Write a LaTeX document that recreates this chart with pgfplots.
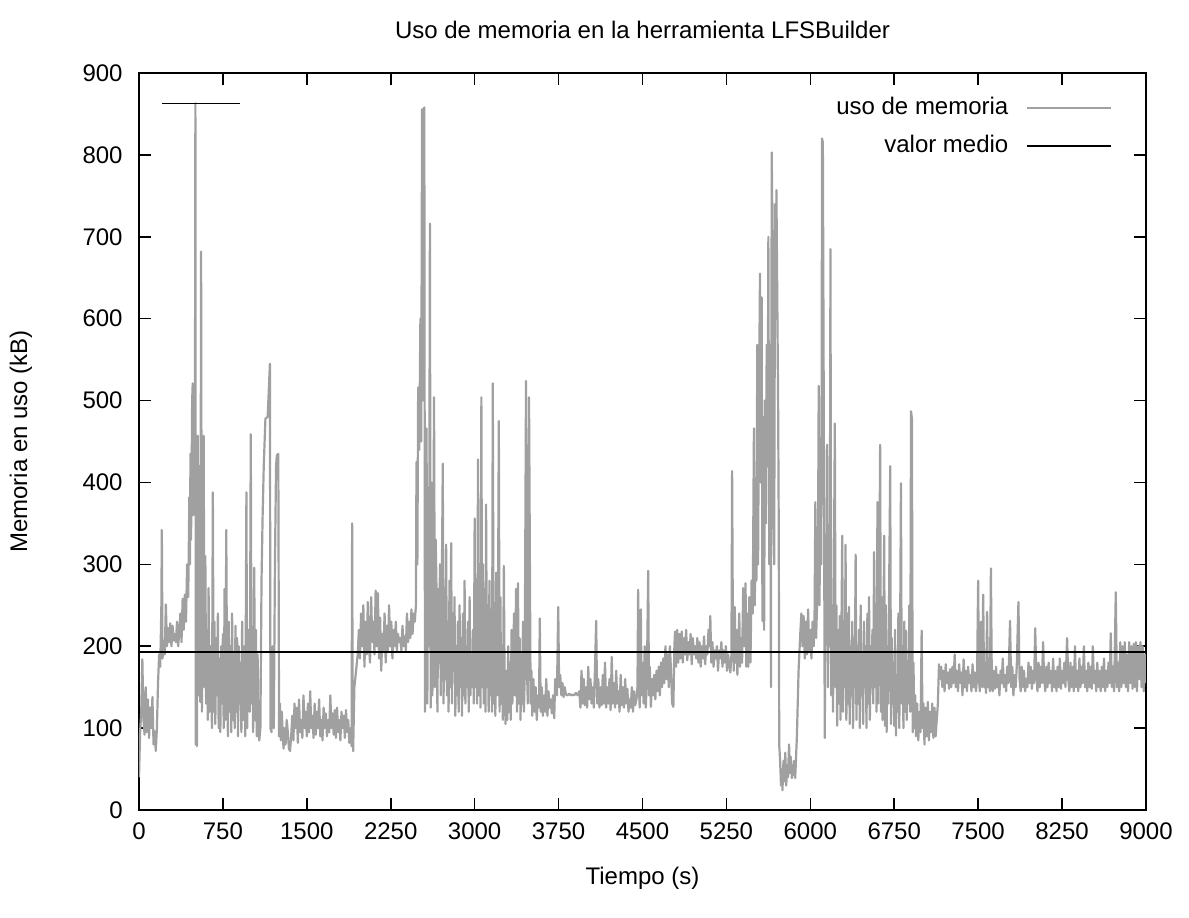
\documentclass[border=0pt]{standalone}
\usepackage{fontspec}
\setmainfont{Liberation Sans}
\usepackage{pgfplots}
\pgfplotsset{compat=1.18}

\definecolor{usogris}{HTML}{A0A0A0}

\begin{document}
\fontsize{12pt}{14pt}\selectfont
\begin{tikzpicture}
  % page frame: the axis box runs from (0,0) to (503.5pt,368.5pt)
  \useasboundingbox (-69.5pt,-53.5pt) rectangle (525pt,405pt);
  \begin{axis}[
      anchor=south west,
      at={(0pt,0pt)},
      scale only axis,
      width=503.5pt,
      height=368.5pt,
      xmin=0, xmax=9000,
      ymin=0, ymax=900,
      xtick={0,750,...,9000},
      ytick={0,100,...,900},
      tick pos=both,
      tick align=inside,
      major tick length=6pt,
      tick style={black, line width=0.8pt},
      axis line style={black, line width=0.9pt},
      /pgf/number format/assume math mode=true,
      /pgf/number format/1000 sep={},
      xticklabel style={yshift=-2pt},
      yticklabel style={xshift=-4pt},
      legend plot pos=right,
      legend cell align=right,
      legend image code/.code={\draw[#1] (0pt,0pt) -- (42pt,0pt);},
      legend style={at={(axis description cs:1,1)}, anchor=north east,
        xshift=-16.5pt, yshift=-11pt, draw=none, fill=none,
        inner sep=0pt, row sep=6.5pt, column sep=8pt,
        nodes={inner sep=1pt}},
    ]
    \addplot[usogris, line width=1.1pt, line join=round] coordinates {
(0,40) (10,95) (20,120) (30,184) (40,110) (50,92) (60,150) (70,95) (80,135) (90,88)
(100,125) (110,100) (120,138) (130,80) (140,96) (150,72) (160,100) (170,155) (180,190) (190,175)
(200,250) (204,342) (210,185) (220,200) (230,190) (240,251) (250,200) (260,222) (270,205) (280,228)
(290,200) (300,225) (310,207) (320,215) (330,205) (340,230) (350,200) (360,218) (370,240) (380,205)
(390,258) (400,220) (410,263) (420,230) (430,300) (440,260) (450,382) (455,300) (460,435) (465,330)
(470,400) (475,500) (480,521) (485,360) (490,420) (495,390) (500,460) (504,863) (508,80) (512,250)
(518,78) (525,457) (532,140) (540,420) (548,132) (555,682) (562,120) (570,300) (578,457) (585,150)
(593,310) (600,130) (608,220) (615,110) (622,271) (630,120) (638,200) (645,160) (652,100) (660,388)
(667,120) (675,230) (682,105) (690,210) (697,140) (705,240) (712,100) (720,185) (727,95) (735,200)
(742,130) (750,215) (757,100) (765,270) (772,110) (780,342) (787,150) (795,90) (802,230) (810,120)
(817,200) (825,95) (832,240) (840,110) (847,190) (855,100) (862,225) (870,120) (877,210) (885,90)
(892,200) (900,130) (907,180) (915,95) (922,230) (930,110) (940,200) (950,90) (960,388) (967,100)
(975,220) (982,150) (990,120) (999,459) (1006,130) (1013,210) (1020,95) (1030,296) (1037,110) (1045,220)
(1052,90) (1060,190) (1068,100) (1075,85) (1085,100) (1095,280) (1105,360) (1115,420) (1130,478) (1150,480)
(1170,545) (1175,100) (1185,95) (1195,200) (1205,100) (1215,300) (1225,420) (1232,433) (1245,435) (1252,90)
(1260,130) (1268,85) (1276,120) (1284,95) (1292,75) (1300,100) (1310,80) (1320,110) (1330,95) (1340,75)
(1350,72) (1360,90) (1370,115) (1380,85) (1390,130) (1400,100) (1410,125) (1420,82) (1430,135) (1440,95)
(1450,110) (1460,88) (1470,140) (1480,100) (1490,120) (1500,90) (1510,130) (1520,95) (1530,145) (1540,100)
(1550,115) (1560,88) (1570,130) (1580,92) (1590,120) (1600,100) (1610,135) (1620,90) (1630,110) (1640,85)
(1650,125) (1660,100) (1670,118) (1680,90) (1690,110) (1700,95) (1710,140) (1720,100) (1730,118) (1740,92)
(1750,122) (1760,88) (1770,125) (1780,95) (1790,110) (1800,85) (1810,120) (1820,100) (1830,115) (1840,88)
(1850,122) (1860,95) (1870,110) (1880,82) (1890,100) (1900,78) (1905,350) (1910,95) (1914,72) (1925,150)
(1940,170) (1955,190) (1965,220) (1975,185) (1985,240) (1995,200) (2005,250) (2015,175) (2025,230) (2035,190)
(2045,254) (2055,200) (2065,180) (2075,260) (2085,205) (2095,230) (2105,190) (2115,268) (2125,200) (2135,265)
(2145,185) (2155,235) (2165,170) (2175,215) (2185,195) (2195,240) (2205,180) (2215,225) (2225,195) (2235,250)
(2245,200) (2255,230) (2265,185) (2275,220) (2285,200) (2295,230) (2305,195) (2315,215) (2325,205) (2335,210)
(2345,195) (2355,225) (2365,200) (2375,212) (2385,195) (2395,240) (2405,205) (2415,230) (2425,210) (2435,245)
(2445,215) (2455,240) (2465,230) (2475,250) (2480,425) (2488,300) (2495,516) (2505,440) (2515,600) (2522,450)
(2530,856) (2535,500) (2542,850) (2550,858) (2556,120) (2563,300) (2570,466) (2577,130) (2585,350) (2592,200)
(2600,716) (2607,125) (2615,400) (2622,140) (2630,300) (2637,504) (2645,150) (2652,330) (2660,260) (2667,120)
(2675,270) (2682,180) (2690,300) (2697,140) (2705,250) (2715,423) (2722,130) (2730,260) (2737,160) (2745,324)
(2752,140) (2760,230) (2767,120) (2775,280) (2782,150) (2790,326) (2797,130) (2805,240) (2812,170) (2820,260)
(2827,115) (2835,200) (2842,140) (2850,230) (2857,120) (2865,250) (2872,150) (2880,210) (2887,115) (2895,240)
(2902,140) (2910,280) (2917,130) (2925,200) (2932,150) (2940,230) (2947,120) (2955,260) (2962,140) (2970,190)
(2977,150) (2985,220) (2992,130) (3000,356) (3006,150) (3015,250) (3022,130) (3030,428) (3037,140) (3045,300)
(3052,125) (3060,504) (3067,150) (3075,300) (3082,130) (3090,250) (3097,120) (3102,373) (3110,150) (3117,250)
(3125,120) (3132,280) (3140,140) (3147,200) (3155,120) (3162,521) (3170,130) (3177,250) (3185,115) (3192,290)
(3200,140) (3207,200) (3216,475) (3223,120) (3230,260) (3237,130) (3245,200) (3252,110) (3261,298) (3268,150)
(3276,105) (3285,170) (3292,110) (3300,200) (3307,120) (3315,180) (3322,110) (3330,220) (3337,130) (3345,190)
(3352,240) (3360,140) (3370,270) (3378,120) (3387,277) (3395,130) (3402,210) (3410,110) (3418,190) (3425,130)
(3432,230) (3440,120) (3447,160) (3459,524) (3466,180) (3475,130) (3486,504) (3492,347) (3500,130) (3508,170)
(3515,115) (3525,160) (3535,120) (3545,150) (3555,110) (3565,140) (3575,125) (3582,234) (3590,120) (3600,150)
(3610,115) (3620,140) (3630,120) (3640,160) (3650,115) (3660,145) (3670,125) (3680,135) (3690,118) (3700,140)
(3711,112) (3720,160) (3735,140) (3747,248) (3755,150) (3765,165) (3775,140) (3785,155) (3795,138) (3805,150)
(3816,141) (3830,140) (3845,142) (3860,140) (3875,141) (3890,140) (3905,143) (3920,140) (3936,145) (3945,125)
(3955,170) (3965,130) (3975,160) (3985,128) (3995,150) (4005,125) (4015,175) (4025,135) (4035,160) (4045,130)
(4055,150) (4065,125) (4075,170) (4086,231) (4095,130) (4105,160) (4115,125) (4125,150) (4135,128) (4145,165)
(4155,130) (4165,180) (4175,125) (4185,150) (4195,130) (4205,160) (4215,122) (4225,187) (4235,130) (4245,155)
(4255,125) (4265,170) (4275,130) (4285,145) (4295,120) (4305,165) (4315,128) (4325,150) (4335,125) (4345,160)
(4355,130) (4365,148) (4375,120) (4385,135) (4395,125) (4405,150) (4415,120) (4425,145) (4435,128) (4446,135)
(4455,150) (4461,269) (4468,150) (4475,125) (4485,245) (4492,140) (4500,180) (4510,130) (4520,200) (4530,125)
(4540,170) (4551,292) (4558,140) (4565,175) (4575,126) (4585,160) (4595,140) (4605,165) (4615,135) (4625,170)
(4635,145) (4645,175) (4655,140) (4665,180) (4675,150) (4685,185) (4695,155) (4705,200) (4715,160) (4725,190)
(4735,150) (4745,200) (4755,170) (4765,130) (4776,126) (4785,200) (4791,218) (4800,175) (4810,220) (4820,180)
(4830,215) (4840,185) (4850,218) (4860,180) (4870,210) (4880,190) (4890,220) (4900,183) (4910,205) (4920,190)
(4930,215) (4940,178) (4950,210) (4960,190) (4970,200) (4980,185) (4990,210) (5000,180) (5010,205) (5020,175)
(5030,200) (5040,185) (5050,212) (5060,178) (5070,200) (5080,190) (5090,220) (5100,200) (5106,237) (5115,180)
(5125,205) (5135,175) (5145,195) (5155,185) (5165,200) (5175,170) (5185,195) (5195,185) (5205,205) (5215,175)
(5225,195) (5235,180) (5245,200) (5255,170) (5265,190) (5275,178) (5285,168) (5295,190) (5301,414) (5308,220)
(5316,170) (5325,248) (5332,180) (5340,220) (5348,165) (5356,200) (5365,240) (5372,175) (5380,210) (5390,180)
(5400,271) (5410,200) (5421,277) (5428,175) (5435,240) (5445,175) (5455,260) (5465,180) (5475,280) (5485,240)
(5496,466) (5503,250) (5510,320) (5518,280) (5526,568) (5533,300) (5540,475) (5550,655) (5557,400) (5565,626)
(5572,231) (5580,480) (5587,220) (5595,500) (5603,350) (5610,568) (5618,420) (5625,700) (5633,300) (5640,568)
(5648,150) (5655,803) (5662,693) (5670,400) (5677,300) (5685,740) (5692,600) (5697,757) (5705,620) (5712,500)
(5718,338) (5722,80) (5730,60) (5738,30) (5745,50) (5751,24) (5760,60) (5768,35) (5776,70) (5785,30)
(5792,55) (5800,40) (5810,80) (5818,45) (5825,65) (5835,39) (5845,45) (5855,60) (5865,39) (5880,90)
(5895,170) (5910,215) (5920,240) (5930,200) (5940,237) (5950,185) (5960,230) (5970,190) (5980,245) (5990,195)
(6000,220) (6010,185) (6020,230) (6030,200) (6038,240) (6045,376) (6052,210) (6060,250) (6068,300) (6075,518)
(6082,250) (6090,400) (6098,300) (6105,820) (6112,815) (6120,500) (6129,88) (6137,300) (6143,250) (6150,446)
(6158,150) (6165,300) (6173,200) (6180,685) (6187,140) (6195,250) (6203,120) (6211,300) (6219,472) (6226,150)
(6233,250) (6240,103) (6248,220) (6255,130) (6263,237) (6270,110) (6277,200) (6285,335) (6292,120) (6300,200)
(6307,150) (6315,324) (6322,110) (6330,240) (6337,130) (6345,248) (6352,105) (6360,200) (6367,140) (6375,230)
(6382,100) (6390,180) (6397,150) (6405,312) (6412,110) (6420,200) (6427,130) (6435,220) (6442,100) (6450,250)
(6457,140) (6465,190) (6472,105) (6480,230) (6487,150) (6495,200) (6502,100) (6510,240) (6517,130) (6525,260)
(6532,110) (6540,200) (6547,150) (6555,220) (6562,130) (6570,315) (6577,150) (6585,250) (6592,120) (6600,376)
(6607,130) (6615,250) (6624,446) (6631,120) (6638,260) (6645,110) (6652,200) (6660,335) (6667,103) (6675,250)
(6682,95) (6690,200) (6697,130) (6705,280) (6714,420) (6721,105) (6728,210) (6735,130) (6742,180) (6750,103)
(6757,220) (6765,91) (6772,160) (6780,120) (6787,240) (6795,100) (6802,200) (6810,399) (6817,130) (6825,200)
(6832,100) (6840,230) (6848,120) (6855,219) (6862,110) (6870,180) (6877,130) (6885,250) (6893,120) (6900,487)
(6908,478) (6915,95) (6922,180) (6930,100) (6938,140) (6945,90) (6955,130) (6965,85) (6975,120) (6985,95)
(6995,219) (7003,100) (7012,130) (7020,80) (7030,125) (7040,90) (7050,132) (7060,85) (7070,120) (7080,95)
(7090,130) (7100,88) (7110,125) (7120,90) (7130,110) (7140,130) (7150,178) (7160,160) (7170,175) (7180,150)
(7190,170) (7200,145) (7210,178) (7220,155) (7230,168) (7240,148) (7250,172) (7260,150) (7270,175) (7280,155)
(7290,190) (7300,150) (7310,170) (7320,145) (7330,178) (7340,155) (7350,168) (7360,140) (7370,184) (7380,150)
(7390,170) (7400,145) (7410,175) (7420,155) (7430,165) (7440,145) (7450,178) (7460,150) (7470,168) (7480,145)
(7490,160) (7500,280) (7507,160) (7515,145) (7525,230) (7535,150) (7545,263) (7553,150) (7560,180) (7570,143)
(7580,242) (7588,150) (7595,175) (7605,145) (7614,295) (7622,160) (7630,145) (7640,170) (7650,148) (7660,175)
(7670,150) (7680,165) (7690,140) (7700,170) (7710,155) (7720,185) (7730,150) (7740,165) (7750,145) (7760,175)
(7770,155) (7785,231) (7795,150) (7805,175) (7815,140) (7825,165) (7835,150) (7845,175) (7860,254) (7870,160)
(7880,145) (7890,175) (7900,150) (7910,170) (7920,145) (7930,160) (7940,150) (7950,180) (7960,155) (7970,175)
(7980,148) (7990,170) (8000,155) (8010,222) (8020,165) (8030,145) (8040,180) (8050,150) (8060,175) (8070,155)
(8080,205) (8090,160) (8100,145) (8110,175) (8120,150) (8130,180) (8140,155) (8150,170) (8160,145) (8170,185)
(8180,150) (8190,170) (8200,145) (8210,175) (8220,150) (8230,185) (8240,148) (8250,170) (8260,155) (8270,180)
(8280,150) (8295,210) (8305,160) (8315,145) (8325,180) (8335,150) (8345,175) (8355,145) (8365,200) (8375,150)
(8385,170) (8395,145) (8405,185) (8415,150) (8425,175) (8435,155) (8445,200) (8455,150) (8465,170) (8475,145)
(8485,180) (8495,150) (8505,175) (8515,148) (8525,200) (8535,155) (8545,170) (8555,145) (8565,180) (8575,150)
(8585,170) (8595,145) (8605,175) (8615,150) (8625,185) (8635,145) (8645,170) (8655,150) (8665,180) (8675,155)
(8685,216) (8695,150) (8705,175) (8715,145) (8730,266) (8740,150) (8750,180) (8760,145) (8770,205) (8780,150)
(8790,200) (8800,155) (8810,205) (8820,150) (8830,190) (8840,145) (8850,205) (8860,155) (8870,200) (8880,148)
(8890,203) (8900,150) (8910,205) (8920,145) (8930,200) (8940,160) (8950,205) (8960,150) (8970,200) (8980,145)
(8990,190) (9000,155)
    };
    \addlegendentry{uso de memoria}
    \addplot[black, line width=0.8pt] coordinates {(0,193) (9000,193)};
    \addlegendentry{valor medio}
    \addplot[black, line width=0.8pt, forget plot] coordinates {(205,863) (903,863)};
  \end{axis}
  \node at (251.75pt,390pt) {Uso de memoria en la herramienta LFSBuilder};
  \node at (251.75pt,-34pt) {Tiempo (s)};
  \node[rotate=90] at (-59pt,184.25pt) {Memoria en uso (kB)};
\end{tikzpicture}
\end{document}
